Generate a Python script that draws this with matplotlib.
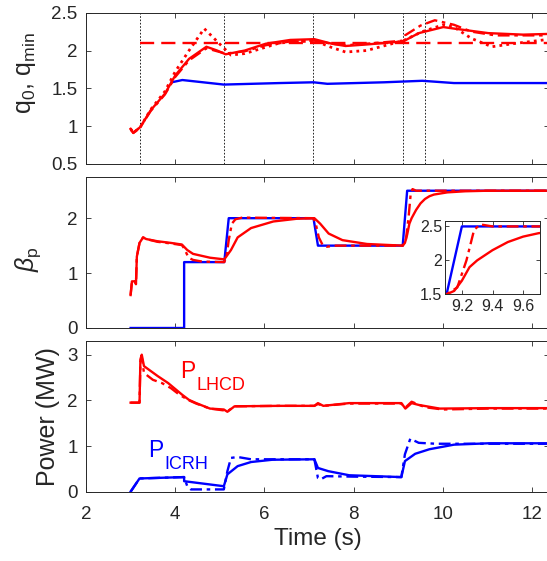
import matplotlib
matplotlib.use('Agg')
import matplotlib.pyplot as plt

plt.rcParams['font.family'] = ['Liberation Sans', 'DejaVu Sans']
plt.rcParams['mathtext.fontset'] = 'custom'
plt.rcParams['mathtext.rm'] = 'Liberation Sans'
plt.rcParams['mathtext.it'] = 'Liberation Sans:italic'

RED = (1, 0, 0)
BLUE = (0, 0, 1)
DARK = (0.15, 0.15, 0.15)

# ---------------- q panel ----------------
vlines_t = [3.2, 5.1, 7.1, 9.1, 9.6]

q_target_t = [3.2, 12.4]
q_target = [2.1, 2.1]

q0_t = [3.92, 4.16, 5.09, 6.34, 7.1, 7.41, 8.68, 9.54, 10.25, 12.4]
q0 = [1.58, 1.61, 1.55, 1.57, 1.58, 1.56, 1.58, 1.60, 1.57, 1.57]

qmin_t = [3.0, 3.06, 3.22, 3.45, 3.77, 4.0, 4.31, 4.70, 4.94, 5.13, 5.56, 6.03, 6.58,
          7.12, 7.51, 7.82, 8.29, 9.11, 9.46, 10.01, 10.25, 11.02, 11.8, 12.4]
qmin = [0.965, 0.91, 0.99, 1.21, 1.43, 1.67, 1.89, 2.05, 2.0, 1.95, 2.0, 2.09, 2.14,
        2.15, 2.09, 2.06, 2.08, 2.12, 2.23, 2.31, 2.29, 2.23, 2.21, 2.22]

qmin_dd_t = [3.0, 3.06, 3.22, 3.45, 3.77, 4.0, 4.31, 4.70, 4.94, 5.13, 5.56, 6.03, 6.58,
             7.12, 7.51, 7.85, 8.29, 9.1, 9.15, 9.5, 9.82, 10.25, 10.64, 11.18, 12.4]
qmin_dd = [0.965, 0.91, 0.99, 1.20, 1.42, 1.65, 1.87, 2.03, 1.99, 1.96, 1.99, 2.07, 2.12,
           2.13, 2.09, 2.07, 2.09, 2.13, 2.2, 2.33, 2.40, 2.34, 2.25, 2.2, 2.2]

qmin_dot_t = [3.0, 3.06, 3.22, 3.45, 3.77, 4.0, 4.31, 4.65, 4.94, 5.25, 5.56, 6.34, 7.12,
              7.51, 7.82, 8.29, 9.11, 9.54, 10.01, 10.25, 10.64, 11.1, 11.57, 12.4]
qmin_dot = [0.965, 0.91, 0.99, 1.22, 1.46, 1.72, 2.0, 2.29, 2.12, 1.94, 1.96, 2.1, 2.13,
            2.04, 1.98, 2.0, 2.13, 2.25, 2.34, 2.31, 2.16, 2.05, 2.09, 2.15]

# ---------------- beta_p panel ----------------
bref_t = [3.0, 4.2, 4.2, 5.1, 5.2, 7.1, 7.2, 9.1, 9.2, 12.4]
bref = [0.0, 0.0, 1.2, 1.2, 2.0, 2.0, 1.5, 1.5, 2.5, 2.5]

bp_t = [3.0, 3.03, 3.1, 3.12, 3.14, 3.2, 3.28, 3.35, 3.6, 3.9, 4.15, 4.27, 4.4, 4.78,
        5.1, 5.25, 5.4, 5.7, 6.2, 6.73, 7.12, 7.25, 7.44, 7.75, 8.3, 9.1, 9.15, 9.2,
        9.25, 9.3, 9.4, 9.5, 9.6, 9.7, 9.8, 10.1, 10.5, 11.0, 12.4]
bp = [0.6, 0.85, 0.85, 0.8, 1.3, 1.55, 1.65, 1.62, 1.58, 1.55, 1.52, 1.42, 1.35, 1.28,
      1.25, 1.42, 1.65, 1.82, 1.94, 1.99, 2.0, 1.9, 1.72, 1.6, 1.53, 1.5, 1.55, 1.7,
      1.9, 2.0, 2.15, 2.27, 2.35, 2.4, 2.43, 2.47, 2.49, 2.5, 2.5]

bp_dd_t = [3.0, 3.03, 3.1, 3.12, 3.14, 3.2, 3.28, 3.35, 3.6, 3.9, 4.15, 4.2, 4.3, 4.4,
           4.6, 5.1, 5.15, 5.2, 5.27, 5.35, 5.5, 7.1, 7.15, 7.22, 7.3, 7.4, 7.6, 9.1,
           9.17, 9.23, 9.28, 9.32, 9.4, 12.4]
bp_dd = [0.6, 0.85, 0.85, 0.8, 1.3, 1.55, 1.65, 1.62, 1.57, 1.54, 1.51, 1.45, 1.28, 1.24,
         1.21, 1.2, 1.3, 1.6, 1.9, 1.98, 2.01, 2.0, 1.9, 1.65, 1.52, 1.48, 1.5, 1.5,
         1.6, 2.0, 2.45, 2.53, 2.5, 2.5]

# ---------------- power panel ----------------
plh_t = [3.0, 3.2, 3.22, 3.25, 3.3, 3.61, 3.84, 4.16, 4.31, 4.47, 4.78, 5.09, 5.17, 5.33,
         6.34, 7.12, 7.2, 7.32, 7.9, 9.07, 9.16, 9.3, 9.46, 9.93, 11.02, 12.4]
plh = [1.95, 1.95, 2.9, 3.0, 2.75, 2.53, 2.38, 2.12, 2.01, 1.94, 1.82, 1.8, 1.75, 1.87,
       1.88, 1.88, 1.94, 1.88, 1.94, 1.94, 1.82, 1.94, 1.9, 1.82, 1.83, 1.83]

plh_dd_t = [3.0, 3.2, 3.22, 3.25, 3.3, 3.5, 3.7, 3.9, 4.1, 4.31, 4.47, 4.78, 5.09, 5.17,
            5.33, 6.34, 7.12, 7.2, 7.32, 7.9, 9.07, 9.16, 9.3, 9.6, 10.0, 11.0, 12.4]
plh_dd = [1.95, 1.95, 2.85, 2.95, 2.6, 2.45, 2.38, 2.27, 2.12, 2.0, 1.93, 1.82, 1.78, 1.76,
          1.87, 1.88, 1.88, 1.92, 1.88, 1.93, 1.93, 1.84, 1.97, 1.85, 1.8, 1.82, 1.82]

pic_t = [3.0, 3.2, 4.2, 4.2, 5.09, 5.17, 5.4, 5.7, 6.18, 7.12, 7.2, 7.43, 7.9, 9.07,
         9.15, 9.38, 9.7, 10.25, 11.02, 12.4]
pic = [0.0, 0.29, 0.32, 0.23, 0.12, 0.38, 0.56, 0.65, 0.70, 0.71, 0.52, 0.45, 0.36, 0.32,
       0.67, 0.83, 0.93, 1.03, 1.06, 1.06]

pic_dd_t = [3.0, 3.2, 4.2, 4.27, 4.35, 5.09, 5.17, 5.25, 5.4, 5.7, 7.12, 7.2, 7.26, 7.39,
            8.0, 9.07, 9.15, 9.27, 9.46, 9.85, 12.4]
pic_dd = [0.0, 0.29, 0.32, 0.12, 0.05, 0.05, 0.45, 0.74, 0.76, 0.71, 0.71, 0.3, 0.27, 0.34,
          0.33, 0.32, 0.82, 1.16, 1.07, 1.05, 1.05]

LW = 1.7
DD = (0, (5, 2, 1.5, 2))

fig = plt.figure(figsize=(5.47, 5.61), dpi=100)
W = 463 / 547
ax1 = fig.add_axes([86 / 547, 1 - 164 / 561, W, 151.3 / 561])
ax2 = fig.add_axes([86 / 547, 1 - 328 / 561, W, 151 / 561])
ax3 = fig.add_axes([86 / 547, 1 - 491.7 / 561, W, 150.7 / 561])


def style(ax, fs=13.5):
    for s in ax.spines.values():
        s.set_color(DARK)
        s.set_linewidth(0.7)
    ax.tick_params(direction='in', top=True, right=True, length=3.5, width=0.6,
                   color=DARK, labelcolor=DARK, labelsize=fs, pad=6)


# q panel
for t in vlines_t:
    ax1.axvline(t, color='k', linestyle=(0, (2, 2)), linewidth=0.6)
ax1.plot(q_target_t, q_target, color=RED, linestyle=(0, (6, 3)), linewidth=LW)
ax1.plot(q0_t, q0, color=BLUE, linewidth=LW)
ax1.plot(qmin_dot_t, qmin_dot, color=RED, linestyle=(0, (1, 1.5)), linewidth=2)
ax1.plot(qmin_dd_t, qmin_dd, color=RED, linestyle=DD, linewidth=LW)
ax1.plot(qmin_t, qmin, color=RED, linewidth=LW)
ax1.set_xlim(2, 12.38)
ax1.set_ylim(0.5, 2.5)
ax1.set_yticks([0.5, 1, 1.5, 2, 2.5])
ax1.set_yticklabels(['0.5', '1', '1.5', '2', '2.5'])
ax1.set_xticks([2, 4, 6, 8, 10, 12])
ax1.set_xticklabels([])
ax1.set_ylabel(r'q$_0$, q$_{\rm min}$', fontsize=18, color=DARK)
ax1.yaxis.set_label_coords(-0.104, 0.6)
style(ax1)

# beta_p panel
ax2.plot(bref_t, bref, color=BLUE, linewidth=LW)
ax2.plot(bp_dd_t, bp_dd, color=RED, linestyle=DD, linewidth=LW)
ax2.plot(bp_t, bp, color=RED, linewidth=LW)
ax2.set_xlim(2, 12.38)
ax2.set_ylim(0, 2.75)
ax2.set_yticks([0, 1, 2])
ax2.set_xticks([2, 4, 6, 8, 10, 12])
ax2.set_xticklabels([])
ax2.set_ylabel(r'$\beta_{\rm p}$', fontsize=18, color=DARK)
ax2.yaxis.set_label_coords(-0.093, 0.457)
style(ax2)

# inset
axi = fig.add_axes([445 / 547, 1 - 294.3 / 561, 95 / 547, 73.3 / 561])
axi.plot(bref_t, bref, color=BLUE, linewidth=LW)
axi.plot(bp_dd_t, bp_dd, color=RED, linestyle=DD, linewidth=LW)
axi.plot(bp_t, bp, color=RED, linewidth=LW)
axi.set_xlim(9.09, 9.71)
axi.set_ylim(1.5, 2.58)
axi.set_xticks([9.2, 9.4, 9.6])
axi.set_yticks([1.5, 2, 2.5])
axi.set_yticklabels(['1.5', '2', '2.5'])
style(axi, fs=11.5)
axi.tick_params(axis='y', pad=2, length=3)
axi.tick_params(axis='x', pad=3.5, length=3)

# power panel
ax3.plot(plh_dd_t, plh_dd, color=RED, linestyle=DD, linewidth=LW)
ax3.plot(plh_t, plh, color=RED, linewidth=LW)
ax3.plot(pic_dd_t, pic_dd, color=BLUE, linestyle=DD, linewidth=LW)
ax3.plot(pic_t, pic, color=BLUE, linewidth=LW)
for x, y, sub, c in [(4.11, 2.5, 'LHCD', RED), (3.39, 0.76, 'ICRH', BLUE)]:
    ax3.text(x, y, 'P', color=c, fontsize=16.5, ha='left', va='baseline')
    ax3.annotate(sub, xy=(x, y), xytext=(16, -12), textcoords='offset pixels',
                 color=c, fontsize=13, ha='left', va='baseline')
ax3.set_xlim(2, 12.38)
ax3.set_ylim(0, 3.3)
ax3.set_yticks([0, 1, 2, 3])
ax3.set_xticks([2, 4, 6, 8, 10, 12])
ax3.set_ylabel('Power (MW)', fontsize=18, color=DARK)
ax3.yaxis.set_label_coords(-0.056, 0.5)
style(ax3)
ax3.tick_params(axis='x', pad=10)
ax3.set_xlabel('Time (s)', fontsize=17.5, color=DARK, labelpad=4)

fig.savefig('out.png', dpi=100)
